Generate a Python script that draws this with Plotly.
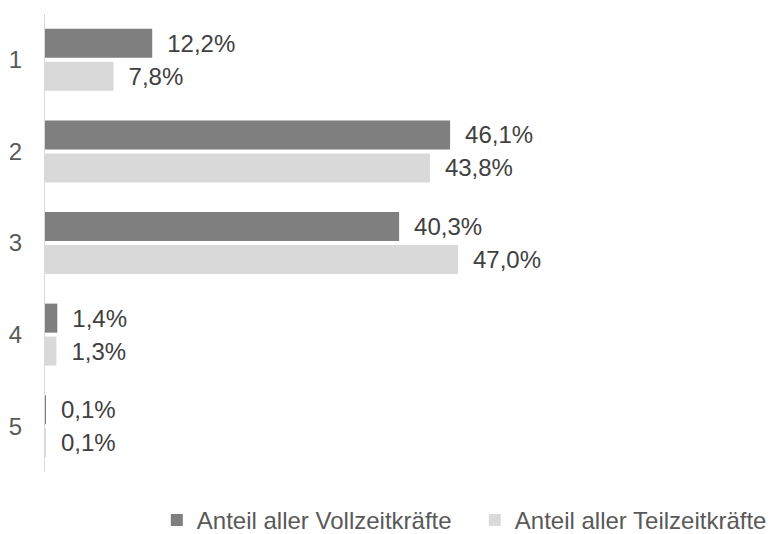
import plotly.graph_objects as go

categories = ["1", "2", "3", "4", "5"]
vollzeit = [12.2, 46.1, 40.3, 1.4, 0.1]
teilzeit = [7.8, 43.8, 47.0, 1.3, 0.1]
series_names = ["Anteil aller Vollzeitkräfte", "Anteil aller Teilzeitkräfte"]
colors = ["#7f7f7f", "#d9d9d9"]

FONT = "Liberation Sans, Arial, sans-serif"

def fmt(v):
    return "\u2002" + f"{v:.1f}".replace(".", ",") + "%"

fig = go.Figure()
for name, vals, col in zip(series_names, [vollzeit, teilzeit], colors):
    fig.add_trace(go.Bar(
        y=categories, x=vals, name=name, orientation="h",
        marker=dict(color=col, line=dict(width=0)),
        text=[fmt(v) for v in vals], textposition="outside",
        constraintext="none",
        textfont=dict(size=24, color="#404040", family=FONT),
        cliponaxis=False,
    ))

# page body has an 8px margin, so the figure is sized to fit the 775x534 window
fig.update_layout(
    width=767, height=526,
    margin=dict(l=37, r=20, t=6, b=62, autoexpand=False),
    barmode="group", bargap=0.28, bargroupgap=0.12,
    plot_bgcolor="white", paper_bgcolor="white",
    font=dict(family=FONT, size=24, color="#595959"),
    xaxis=dict(range=[0, 80.8], visible=False, showgrid=False, zeroline=False),
    yaxis=dict(autorange="reversed", showline=True, linecolor="#d9d9d9", linewidth=1,
               ticks="", ticklabelstandoff=17, automargin=False,
               tickfont=dict(size=24, color="#595959"), showgrid=False),
    legend=dict(orientation="h", xref="container", yref="container",
                x=0.194, xanchor="left", y=0.026, yanchor="middle",
                font=dict(size=24, color="#595959"), traceorder="normal",
                itemwidth=30, entrywidth=273, entrywidthmode="pixels"),
    showlegend=True,
)
fig.write_html("out.html")
